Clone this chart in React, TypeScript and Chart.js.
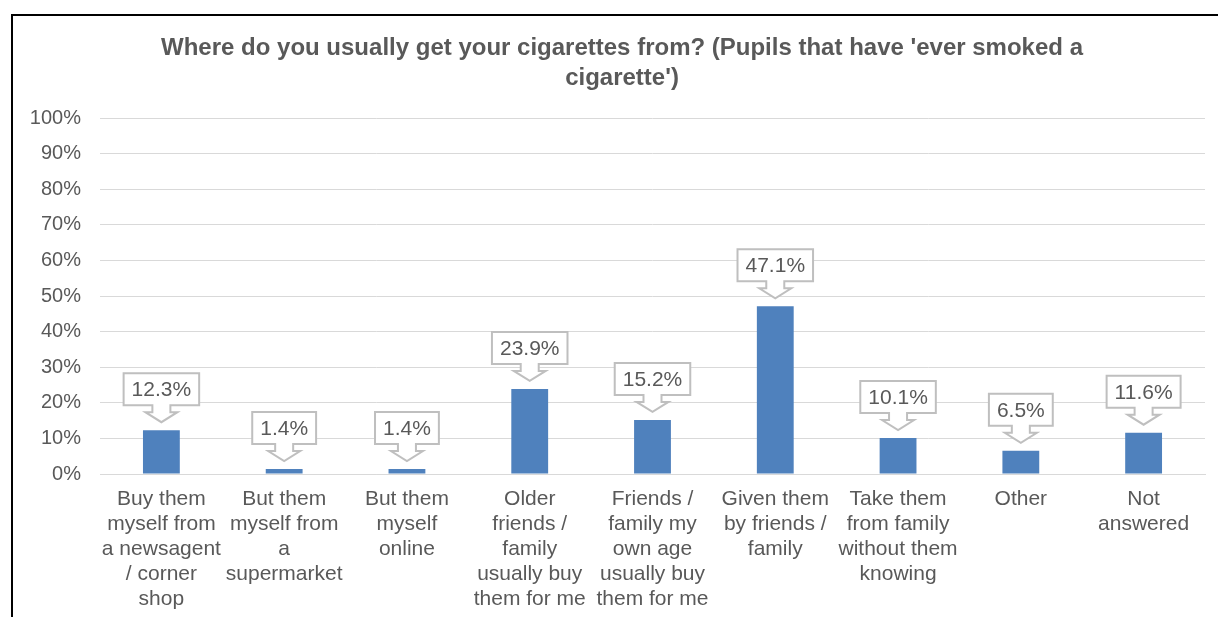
import React, { useEffect, useRef } from "react";
import { Chart, registerables } from "chart.js";

Chart.register(...registerables);

const titleLines: string[] = [
  "Where do you usually get your cigarettes from? (Pupils that have 'ever smoked a",
  "cigarette')",
];

const categories: string[][] = [
  ["Buy them", "myself from", "a newsagent", "/ corner", "shop"],
  ["But them", "myself from", "a", "supermarket"],
  ["But them", "myself", "online"],
  ["Older", "friends /", "family", "usually buy", "them for me"],
  ["Friends /", "family my", "own age", "usually buy", "them for me"],
  ["Given them", "by friends /", "family"],
  ["Take them", "from family", "without them", "knowing"],
  ["Other"],
  ["Not", "answered"],
];

const values: number[] = [12.3, 1.4, 1.4, 23.9, 15.2, 47.1, 10.1, 6.5, 11.6];
const valueLabels: string[] = ["12.3%", "1.4%", "1.4%", "23.9%", "15.2%", "47.1%", "10.1%", "6.5%", "11.6%"];

const FONT = "'Liberation Sans', Arial, sans-serif";
const TEXT = "#595959";

const titlePlugin = {
  id: "customTitle",
  afterDraw(chart: any) {
    const ctx = chart.ctx;
    ctx.save();
    ctx.font = `bold 24px ${FONT}`;
    ctx.fillStyle = TEXT;
    ctx.textAlign = "center";
    ctx.textBaseline = "middle";
    titleLines.forEach((t, i) => ctx.fillText(t, 622, 48 + i * 30));
    ctx.restore();
  },
};

const calloutPlugin = {
  id: "callouts",
  afterDatasetsDraw(chart: any) {
    const ctx = chart.ctx;
    const meta = chart.getDatasetMeta(0);
    ctx.save();
    ctx.font = `21px ${FONT}`;
    meta.data.forEach((el: any, i: number) => {
      const label = valueLabels[i];
      const tw = ctx.measureText(label).width;
      const w = tw + 16;
      const h = 32;
      const cx = el.x;
      const tip = el.y - 8;
      const headH = 10;
      const stemH = 7;
      const stemHalf = 9;
      const headHalf = 16;
      const bottom = tip - headH - stemH;
      const top = bottom - h;
      const left = cx - w / 2;
      const right = cx + w / 2;
      ctx.beginPath();
      ctx.moveTo(left, top);
      ctx.lineTo(right, top);
      ctx.lineTo(right, bottom);
      ctx.lineTo(cx + stemHalf, bottom);
      ctx.lineTo(cx + stemHalf, bottom + stemH);
      ctx.lineTo(cx + headHalf, bottom + stemH);
      ctx.lineTo(cx, tip);
      ctx.lineTo(cx - headHalf, bottom + stemH);
      ctx.lineTo(cx - stemHalf, bottom + stemH);
      ctx.lineTo(cx - stemHalf, bottom);
      ctx.lineTo(left, bottom);
      ctx.closePath();
      ctx.fillStyle = "#ffffff";
      ctx.fill();
      ctx.strokeStyle = "#bfbfbf";
      ctx.lineWidth = 2;
      ctx.stroke();
      ctx.fillStyle = TEXT;
      ctx.textAlign = "center";
      ctx.textBaseline = "middle";
      ctx.fillText(label, cx, (top + bottom) / 2 + 1);
    });
    ctx.restore();
  },
};

export default function App() {
  const ref = useRef<HTMLCanvasElement | null>(null);
  useEffect(() => {
    if (!ref.current) return;
    const chart = new Chart(ref.current, {
      type: "bar",
      data: {
        labels: categories,
        datasets: [
          {
            data: values,
            backgroundColor: "#4f81bd",
            barPercentage: 0.3,
            categoryPercentage: 1,
          },
        ],
      },
      options: {
        responsive: false,
        animation: false,
        devicePixelRatio: 1,
        layout: { padding: { top: 118, right: 13, left: 0, bottom: 0 } },
        plugins: {
          legend: { display: false },
          title: { display: false },
          tooltip: { enabled: false },
        },
        scales: {
          x: {
            grid: { display: false, drawTicks: false },
            border: { display: true, color: "#d9d9d9", width: 1 },
            ticks: {
              color: TEXT,
              font: { family: FONT, size: 21, lineHeight: 1.19 },
              padding: 13,
              maxRotation: 0,
              minRotation: 0,
              autoSkip: false,
            },
            afterFit(scale: any) {
              scale.height = 143;
            },
          },
          y: {
            min: 0,
            max: 100,
            grid: { color: "#d9d9d9", lineWidth: 1, drawTicks: false },
            border: { display: false },
            ticks: {
              stepSize: 10,
              color: TEXT,
              font: { family: FONT, size: 20 },
              padding: 19,
              callback: (v: any) => v + "%",
            },
            afterFit(scale: any) {
              scale.width = 100;
            },
          },
        },
      },
      plugins: [titlePlugin, calloutPlugin],
    });
    return () => chart.destroy();
  }, []);
  return (
    <div style={{ position: "fixed", left: 0, top: 0, width: 1218, height: 617, background: "#fff", overflow: "hidden" }}>
      <div
        style={{
          position: "absolute",
          left: 11,
          top: 14,
          width: 1240,
          height: 650,
          borderTop: "2px solid #000",
          borderLeft: "2px solid #000",
        }}
      />
      <canvas ref={ref} width={1218} height={617} style={{ position: "absolute", left: 0, top: 0 }} />
    </div>
  );
}
